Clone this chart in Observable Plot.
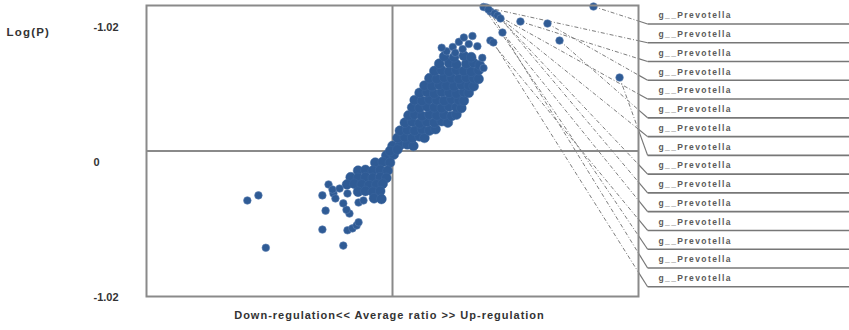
<!DOCTYPE html>
<html><head><meta charset="utf-8">
<script src="https://cdn.jsdelivr.net/npm/d3@7"></script>
<script src="https://cdn.jsdelivr.net/npm/@observablehq/plot@0.6"></script>
<style>body{margin:0;background:#fff}</style>
</head><body><div id="chart"></div>
<script>
// ---- data (x: average ratio, y: p(corr)) ----
const upperCloud = [
 [0.00,0.035],[0.03,0.04],[0.06,0.045],[0.085,0.035],
 [0.02,0.09],[0.05,0.095],[0.08,0.09],[0.11,0.10],[0.13,0.09],
 [0.03,0.14],[0.06,0.145],[0.09,0.14],[0.12,0.15],[0.15,0.14],[0.175,0.15],
 [0.05,0.195],[0.08,0.20],[0.11,0.19],[0.14,0.20],[0.17,0.195],[0.20,0.205],[0.225,0.195],
 [0.065,0.245],[0.09,0.25],[0.12,0.24],[0.15,0.25],[0.18,0.245],[0.21,0.25],[0.24,0.24],[0.26,0.25],
 [0.08,0.30],[0.11,0.295],[0.14,0.305],[0.17,0.30],[0.20,0.295],[0.23,0.305],[0.26,0.30],[0.28,0.295],
 [0.09,0.35],[0.12,0.345],[0.15,0.355],[0.18,0.35],[0.21,0.345],[0.24,0.355],[0.27,0.35],[0.29,0.345],
 [0.11,0.40],[0.14,0.405],[0.17,0.395],[0.20,0.405],[0.23,0.40],[0.26,0.395],[0.29,0.405],[0.31,0.40],
 [0.13,0.45],[0.16,0.445],[0.19,0.455],[0.22,0.45],[0.25,0.445],[0.28,0.455],[0.31,0.45],[0.33,0.445],
 [0.15,0.50],[0.18,0.495],[0.21,0.505],[0.24,0.50],[0.27,0.495],[0.30,0.505],[0.33,0.50],[0.35,0.495],
 [0.17,0.55],[0.20,0.555],[0.23,0.545],[0.26,0.555],[0.29,0.55],[0.32,0.545],[0.35,0.555],
 [0.19,0.60],[0.23,0.605],[0.26,0.595],[0.30,0.60],[0.33,0.605],[0.355,0.59],
 [0.21,0.65],[0.25,0.645],[0.29,0.655],[0.32,0.645]
];
const upperScatter = [
 [0.22,0.685],[0.245,0.715],[0.27,0.75],[0.29,0.78],[0.31,0.735],[0.325,0.79],
 [0.255,0.675],[0.345,0.72],[0.285,0.70],[0.365,0.64],[0.20,0.71],[0.37,0.57]
];
const lowerCloud = [
 [-0.025,-0.03],[0.005,-0.025],[-0.01,0.0],[0.02,0.01],
 [-0.07,-0.08],[-0.04,-0.075],[-0.01,-0.08],
 [-0.14,-0.135],[-0.11,-0.13],[-0.08,-0.135],[-0.05,-0.13],[-0.02,-0.135],
 [-0.17,-0.18],[-0.14,-0.185],[-0.11,-0.18],[-0.08,-0.185],[-0.05,-0.18],[-0.025,-0.185],
 [-0.185,-0.23],[-0.155,-0.225],[-0.125,-0.23],[-0.095,-0.235],[-0.065,-0.23],[-0.04,-0.225],
 [-0.14,-0.28],[-0.11,-0.275],[-0.08,-0.28],[-0.05,-0.275],
 [-0.075,-0.325],[-0.045,-0.33]
];
const lowerScatter = [
 [-0.59,-0.34],[-0.545,-0.305],[-0.515,-0.665],
 [-0.285,-0.305],[-0.272,-0.41],[-0.285,-0.54],[-0.20,-0.65],
 [-0.183,-0.545],[-0.163,-0.532],[-0.146,-0.512],[-0.138,-0.49],
 [-0.175,-0.43],[-0.187,-0.404],[-0.20,-0.36],[-0.24,-0.292],[-0.232,-0.326],
 [-0.26,-0.23],[-0.244,-0.265],[-0.183,-0.292],[-0.138,-0.354],[-0.118,-0.34],[-0.215,-0.258]
];
// labelled features (g__Prevotella), in label order top to bottom
const prevotellaX = [0.817,0.382,0.52,0.63,0.398,0.679,0.415,0.923,0.427,0.439,0.447,0.398,0.37,0.39,0.41];
const prevotellaY = [0.993,0.986,0.89,0.876,0.959,0.759,0.945,0.505,0.931,0.911,0.814,0.759,0.99,0.973,0.746];
const featureLabels = ["g__Prevotella","g__Prevotella","g__Prevotella","g__Prevotella","g__Prevotella",
 "g__Prevotella","g__Prevotella","g__Prevotella","g__Prevotella","g__Prevotella",
 "g__Prevotella","g__Prevotella","g__Prevotella","g__Prevotella","g__Prevotella"];
const yTickValues = [0.85, -0.08, -1.01];
const yTickLabels = ["-1.02", "0", "-1.02"];
const yTitle = "Log(P)";
const xTitle = "Down-regulation<< Average ratio >> Up-regulation";

// ---- build tables ----
const densePoints = [...upperCloud, ...lowerCloud].map(([x, y]) => ({x, y}));
const sparsePoints = [...upperScatter, ...lowerScatter,
  ...prevotellaX.map((x, i) => [x, prevotellaY[i]])].map(([x, y]) => ({x, y}));

// label layout (in the chart's coordinate frame, outside the plot box)
const labelX = 1.081, lineX1 = 1.037, lineX2 = 1.86;
const labels = featureLabels.map((name, i) => {
  const ly = 0.931 - 0.129 * i;
  const uy = ly - 0.058;
  const sx = prevotellaX[i], sy = prevotellaY[i];
  const ey = sy + (uy - sy) * (1 - sx) / (lineX1 - sx);
  return {name, ly, uy, sx, sy, ey};
});

const grey = "#8a8a8a";
const blue = "#2f5b95";
const chart = Plot.plot({
  width: 849, height: 330,
  marginLeft: 146, marginRight: 211, marginTop: 5, marginBottom: 34,
  x: {domain: [-1, 1], axis: null},
  y: {domain: [-1, 1], axis: null},
  style: {fontFamily: "'Liberation Sans', Arial, sans-serif", background: "#fff", overflow: "visible"},
  marks: [
    Plot.ruleX([0], {stroke: grey, strokeWidth: 2}),
    Plot.ruleY([0], {stroke: grey, strokeWidth: 2}),
    Plot.link(labels, {x1: "sx", y1: "sy", x2: () => 1, y2: "ey", stroke: "#7d7d7d", strokeWidth: 1, strokeDasharray: "4,2,1,2"}),
    Plot.link(labels, {x1: () => 1, y1: "ey", x2: () => lineX1, y2: "uy", stroke: "#777", strokeWidth: 1.2}),
    Plot.link(labels, {x1: () => lineX1, y1: "uy", x2: () => lineX2, y2: "uy", stroke: "#777", strokeWidth: 1.6}),
    Plot.dot(densePoints, {x: "x", y: "y", r: 4.9, fill: blue, stroke: "#3d679f", strokeWidth: 0.5}),
    Plot.dot(sparsePoints, {x: "x", y: "y", r: 3.8, fill: blue, stroke: "#5a7db0", strokeWidth: 0.6}),
    Plot.frame({stroke: grey, strokeWidth: 2}),
    Plot.text(labels, {x: () => labelX, y: "ly", text: "name", textAnchor: "start", fontSize: 8.5, fontWeight: "bold", fill: "#5a5a5a"}),
    Plot.text(yTickValues, {y: d => d, text: (d, i) => yTickLabels[i], frameAnchor: "left", dx: -53, textAnchor: "start", fontSize: 11, fontWeight: "bold", fill: "#333"}),
    Plot.text([yTitle], {frameAnchor: "top-left", dx: -140, dy: 22, textAnchor: "start", fontSize: 11.5, fontWeight: "bold", fill: "#333"}),
    Plot.text([xTitle], {frameAnchor: "bottom", dx: -3, dy: 22, fontSize: 11, fontWeight: "bold", fill: "#333"})
  ]
});
// letter spacing (the reference's text is set wide)
const spacing = {[xTitle]: "1px", [yTitle]: "1.2px"};
featureLabels.forEach(n => spacing[n] = "1.4px");
chart.querySelectorAll("text").forEach(t => {
  const s = spacing[t.textContent];
  if (s) t.setAttribute("letter-spacing", s);
});
document.getElementById("chart").appendChild(chart);
</script></body></html>
